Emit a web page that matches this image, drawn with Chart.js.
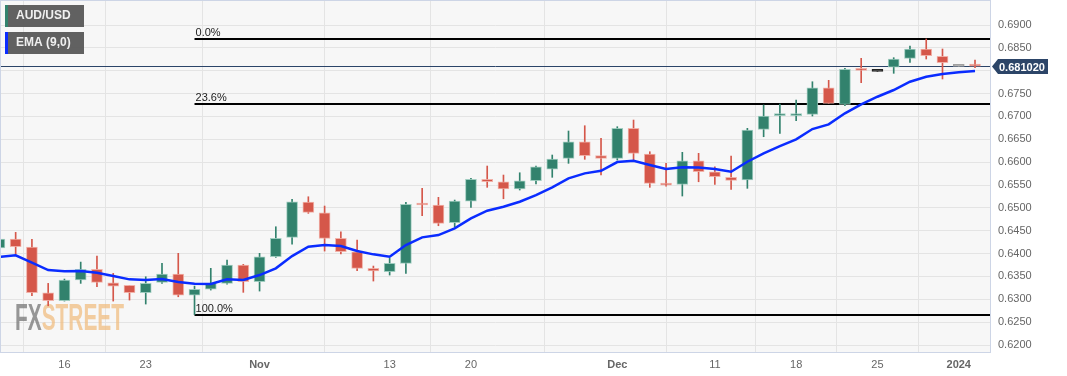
<!DOCTYPE html>
<html>
<head>
<meta charset="utf-8">
<script src="https://cdn.jsdelivr.net/npm/chart.js@4.4.1/dist/chart.umd.min.js"></script>
<style>
  body { margin: 0; background: #ffffff; }
  #wrap { width: 1067px; height: 376px; }
</style>
</head>
<body>
<div id="wrap"><canvas id="fxChart" width="1067" height="376"></canvas></div>
<script>
// trading days shown (Oct 10 2023 .. Jan 2 2024)
const dates = [
  'Oct 10','Oct 11','Oct 12','Oct 13',
  'Oct 16','Oct 17','Oct 18','Oct 19','Oct 20',
  'Oct 23','Oct 24','Oct 25','Oct 26','Oct 27',
  'Oct 30','Oct 31','Nov 1','Nov 2','Nov 3',
  'Nov 6','Nov 7','Nov 8','Nov 9','Nov 10',
  'Nov 13','Nov 14','Nov 15','Nov 16','Nov 17',
  'Nov 20','Nov 21','Nov 22','Nov 23','Nov 24',
  'Nov 27','Nov 28','Nov 29','Nov 30','Dec 1',
  'Dec 4','Dec 5','Dec 6','Dec 7','Dec 8',
  'Dec 11','Dec 12','Dec 13','Dec 14','Dec 15',
  'Dec 18','Dec 19','Dec 20','Dec 21','Dec 22',
  'Dec 25','Dec 26','Dec 27','Dec 28','Dec 29',
  'Jan 1','Jan 2'
];
const holidays = ['Jan 1'];

const open = [0.64121,0.64318,0.64143,0.63143,0.62968,0.63421,0.63655,0.63362,0.63305,0.63143,
  0.63370,0.63552,0.63092,0.63224,0.63348,0.63749,0.63383,0.63930,0.64355,0.65127,
  0.64893,0.64333,0.64040,0.63677,0.63602,0.63786,0.65084,0.65062,0.64674,0.65149,
  0.65624,0.65571,0.65412,0.65593,0.65849,0.66083,0.66447,0.66145,0.66083,0.66740,
  0.66178,0.65536,0.65515,0.66031,0.65790,0.65668,0.65609,0.66718,0.67016,0.67016,
  0.67046,0.67628,0.67265,0.68031,0.67987,0.68075,0.68271,0.68475,0.68315,0.68095,
  0.68110];
const close = [0.64318,0.64149,0.63143,0.62968,0.63421,0.63655,0.63370,0.63289,0.63143,0.63348,
  0.63552,0.63092,0.63217,0.63348,0.63749,0.63383,0.63930,0.64333,0.65134,0.64902,
  0.64333,0.64040,0.63677,0.63618,0.63786,0.65077,0.65062,0.64661,0.65149,0.65624,
  0.65571,0.65412,0.65593,0.65900,0.66068,0.66447,0.66140,0.66083,0.66740,0.66193,
  0.65536,0.65499,0.66031,0.65790,0.65681,0.65602,0.66703,0.67009,0.67037,0.67053,
  0.67628,0.67287,0.68031,0.68009,0.67987,0.68256,0.68475,0.68328,0.68175,0.68095,
  0.68102];
const high = [0.64361,0.64464,0.64311,0.63348,0.63443,0.63814,0.63946,0.63567,0.63305,0.63493,
  0.63786,0.64005,0.63289,0.63677,0.63858,0.63764,0.64005,0.64587,0.65186,0.65243,
  0.65040,0.64477,0.64296,0.63727,0.63895,0.65121,0.65427,0.65230,0.65171,0.65646,
  0.65915,0.65718,0.65768,0.65915,0.66156,0.66681,0.66797,0.66521,0.66775,0.66921,
  0.66228,0.65974,0.66215,0.66193,0.65900,0.66134,0.66740,0.67250,0.67272,0.67359,
  0.67759,0.67790,0.68053,0.68271,0.67987,0.68285,0.68541,0.68694,0.68475,0.68095,
  0.68234];
const low = [0.64099,0.63983,0.63077,0.62858,0.62961,0.63348,0.63274,0.62961,0.62983,0.62896,
  0.63348,0.63055,0.62665,0.63202,0.63333,0.63152,0.63180,0.63917,0.64208,0.64880,
  0.64055,0.63990,0.63624,0.63399,0.63530,0.63567,0.64828,0.64609,0.64587,0.65011,
  0.65449,0.65199,0.65390,0.65521,0.65668,0.65974,0.66062,0.65718,0.66046,0.66046,
  0.65449,0.65477,0.65259,0.65571,0.65515,0.65405,0.65427,0.66556,0.66630,0.66906,
  0.67009,0.67287,0.67234,0.67738,0.67987,0.67943,0.68184,0.68256,0.67819,0.68095,
  0.68066];
// EMA (9,0)
const ema = [0.63930,0.63961,0.63804,0.63639,0.63611,0.63618,0.63580,0.63508,0.63436,0.63421,
  0.63443,0.63377,0.63340,0.63333,0.63436,0.63421,0.63530,0.63677,0.63946,0.64149,
  0.64186,0.64165,0.64055,0.63983,0.63930,0.64186,0.64355,0.64405,0.64552,0.64771,
  0.64937,0.65024,0.65134,0.65280,0.65449,0.65646,0.65755,0.65812,0.66002,0.66031,
  0.65937,0.65849,0.65886,0.65882,0.65849,0.65790,0.66009,0.66193,0.66352,0.66499,
  0.66724,0.66827,0.67068,0.67265,0.67431,0.67578,0.67759,0.67869,0.67928,0.67965,
  0.67994];

const fibLevels = [0.68694, 0.67278, 0.62665];
const fibLabels = ['0.0%', '23.6%', '100.0%'];
const fibStart = 'Oct 26';
const lastPrice = 0.681020;

const priceTicks = [0.6200,0.6250,0.6300,0.6350,0.6400,0.6450,0.6500,0.6550,0.6600,0.6650,0.6700,0.6750,0.6800,0.6850,0.6900];
const xTickDates = ['Oct 16','Oct 23','Nov 1','Nov 13','Nov 20','Dec 1','Dec 11','Dec 18','Dec 25','Jan 1'];
const xTickLabels = ['16','23','Nov','13','20','Dec','11','18','25','2024'];
const boldTicks = ['Nov','Dec','2024'];

const GREEN = '#32826d';
const RED = '#d5574a';

function candleColor(i) {
    if (holidays.includes(dates[i])) return '#a0a0a0';
    if (close[i] > open[i]) return GREEN;
    if (close[i] < open[i]) return RED;
    return '#222222';
}

function candleEdge(i) {
    const col = candleColor(i);
    if (col === GREEN) return 'rgba(150,200,185,0.9)';
    if (col === RED) return 'rgba(240,170,160,0.9)';
    return col;
}

const bodies = dates.map((d, i) => ({ x: i, y: [open[i], close[i]] }));
const wicks = dates.map((d, i) => ({ x: i, y: [low[i], high[i]] }));
const emaPts = dates.map((d, i) => ({ x: i, y: ema[i] }));
const xTickIdx = xTickDates.map(d => dates.indexOf(d));

function noPad(s) {
    s.paddingTop = 0;
    s.paddingBottom = 0;
    s.paddingLeft = 0;
    s.paddingRight = 0;
}

const overlay = {
    id: 'overlay',
    beforeDraw(chart) {
        const a = chart.chartArea, c = chart.ctx;
        c.save();
        c.fillStyle = '#f7f7f7';
        c.fillRect(a.left, a.top, a.right - a.left, a.bottom - a.top);
        c.restore();
    },
    beforeDatasetsDraw(chart) {
        const a = chart.chartArea, c = chart.ctx;
        const xs = chart.scales.x, ys = chart.scales.y;
        c.save();
        c.beginPath();
        c.rect(a.left, a.top, a.right - a.left, a.bottom - a.top);
        c.clip();
        // watermark
        c.font = 'bold 36px "Liberation Sans", Arial, sans-serif';
        const wFX = c.measureText('FX').width;
        const wAll = c.measureText('FXSTREET').width;
        c.translate(15, 330);
        c.scale(109 / wAll, 1);
        c.textBaseline = 'alphabetic';
        c.fillStyle = 'rgba(125,125,125,0.8)';
        c.fillText('FX', 0, 0);
        c.fillStyle = 'rgba(240,190,130,0.75)';
        c.fillText('STREET', wFX, 0);
        c.setTransform(1, 0, 0, 1, 0, 0);
        // last price line
        const py = Math.round(ys.getPixelForValue(lastPrice)) + 0.5;
        c.strokeStyle = '#2b4468';
        c.lineWidth = 1;
        c.beginPath();
        c.moveTo(a.left, py);
        c.lineTo(a.right, py);
        c.stroke();
        // fibonacci levels
        const fx = xs.getPixelForValue(dates.indexOf(fibStart));
        c.font = '11px "Liberation Sans", Arial, sans-serif';
        c.textBaseline = 'bottom';
        c.textAlign = 'left';
        fibLevels.forEach((lv, k) => {
            const y = Math.round(ys.getPixelForValue(lv));
            c.strokeStyle = '#000000';
            c.lineWidth = 2;
            c.beginPath();
            c.moveTo(fx, y);
            c.lineTo(a.right, y);
            c.stroke();
            c.fillStyle = '#222222';
            c.fillText(fibLabels[k], fx + 1, y - 1);
        });
        c.restore();
    },
    afterDraw(chart) {
        const a = chart.chartArea, c = chart.ctx;
        const ys = chart.scales.y;
        c.save();
        // frame
        c.strokeStyle = '#cdd5e6';
        c.lineWidth = 1;
        c.strokeRect(a.left - 0.5, a.top - 0.5, a.right - a.left + 1, a.bottom - a.top + 1);
        // legend boxes
        const boxes = [['AUD/USD', GREEN, 5], ['EMA (9,0)', '#0a2cff', 32]];
        c.font = 'bold 12px "Liberation Sans", Arial, sans-serif';
        c.textBaseline = 'middle';
        boxes.forEach(b => {
            c.fillStyle = 'rgba(88,88,88,0.95)';
            c.fillRect(5, b[2], 79, 22);
            c.fillStyle = b[1];
            c.fillRect(5, b[2], 3, 22);
            c.fillStyle = '#f0f0f0';
            c.fillText(b[0], 16, b[2] + 11);
        });
        // price tag
        const py = Math.round(ys.getPixelForValue(lastPrice)) + 0.5;
        c.fillStyle = '#2c4568';
        c.beginPath();
        c.moveTo(992, py);
        c.lineTo(998, py - 7.5);
        c.lineTo(1048, py - 7.5);
        c.lineTo(1048, py + 7.5);
        c.lineTo(998, py + 7.5);
        c.closePath();
        c.fill();
        c.fillStyle = '#ffffff';
        c.font = 'bold 11px "Liberation Sans", Arial, sans-serif';
        c.textAlign = 'left';
        c.fillText(lastPrice.toFixed(6), 999, py + 1);
        c.restore();
    }
};

const ctx = document.getElementById('fxChart').getContext('2d');
new Chart(ctx, {
    type: 'bar',
    data: {
        datasets: [
            {
                type: 'line',
                data: emaPts,
                borderColor: '#0a2cff',
                borderWidth: 2.5,
                pointRadius: 0,
                tension: 0,
                order: 0
            },
            {
                data: bodies,
                backgroundColor: dates.map((d, i) => candleColor(i)),
                borderColor: dates.map((d, i) => candleEdge(i)),
                borderWidth: 1,
                borderSkipped: false,
                barThickness: 11,
                minBarLength: 2,
                grouped: false,
                order: 1
            },
            {
                data: wicks,
                backgroundColor: dates.map((d, i) => candleColor(i)),
                borderWidth: 0,
                barThickness: 1,
                grouped: false,
                order: 2
            }
        ]
    },
    options: {
        responsive: false,
        animation: false,
        layout: { padding: { left: 1, top: 1, right: 0, bottom: 0 } },
        plugins: { legend: { display: false }, tooltip: { enabled: false } },
        scales: {
            x: {
                type: 'linear',
                min: 0.0984,
                max: 60.922,
                offset: false,
                afterBuildTicks: s => { s.ticks = xTickIdx.map(v => ({ value: v })); },
                afterFit: s => { s.height = 24; noPad(s); },
                grid: { color: '#e4e4e4', drawTicks: false },
                border: { display: false },
                ticks: {
                    autoSkip: false,
                    maxRotation: 0,
                    padding: 6,
                    color: '#666666',
                    font: c => ({ family: '"Liberation Sans", Arial, sans-serif', size: 11, weight: boldTicks.includes(c.tick && c.tick.label) ? 'bold' : 'normal' }),
                    callback: v => xTickLabels[xTickIdx.indexOf(v)]
                }
            },
            y: {
                position: 'right',
                min: 0.61847,
                max: 0.69525,
                afterBuildTicks: s => { s.ticks = priceTicks.map(v => ({ value: v })); },
                afterFit: s => { s.width = 77; noPad(s); },
                grid: { color: '#e4e4e4', drawTicks: false },
                border: { display: false },
                ticks: {
                    padding: 8,
                    color: '#666666',
                    font: { family: '"Liberation Sans", Arial, sans-serif', size: 11 },
                    callback: v => v.toFixed(4)
                }
            }
        }
    },
    plugins: [overlay]
});
</script>
</body>
</html>
